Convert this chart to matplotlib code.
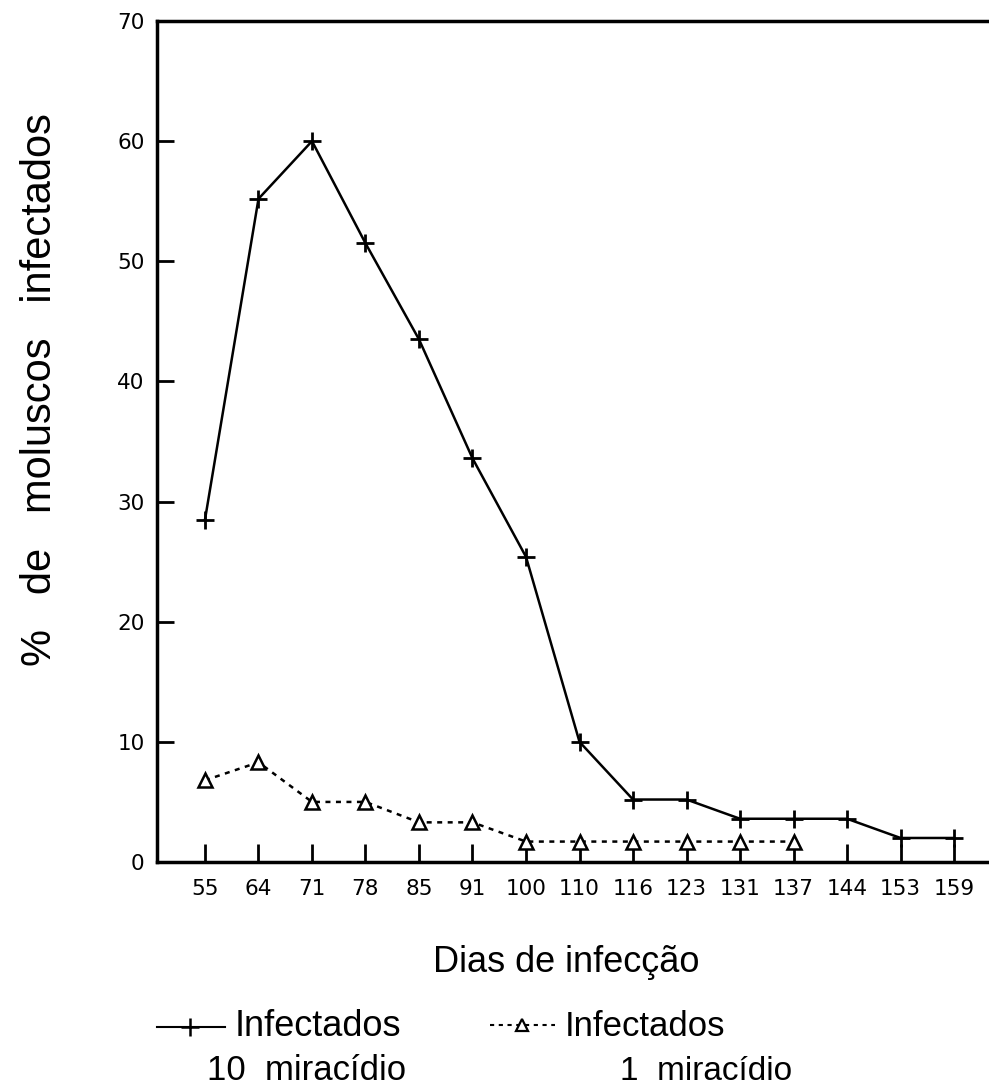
import matplotlib
matplotlib.use('Agg')
import matplotlib.pyplot as plt
from matplotlib.lines import Line2D

# ---- data ----
dias = ['55', '64', '71', '78', '85', '91', '100', '110', '116', '123',
        '131', '137', '144', '153', '159']
infectados_10 = [28.5, 55.2, 60.0, 51.5, 43.5, 33.6, 25.4, 10.0, 5.2, 5.2,
                 3.6, 3.6, 3.6, 2.0, 2.0]
infectados_1 = [6.8, 8.3, 5.0, 5.0, 3.3, 3.3, 1.7, 1.7, 1.7, 1.7, 1.7, 1.7]
yticks = [0, 10, 20, 30, 40, 50, 60, 70]

lab = ['Liberation Sans', 'DejaVu Sans']

W, H = 989, 1092
fig = plt.figure(figsize=(W / 100, H / 100), dpi=100)
ax = fig.add_axes([157 / W, 1 - 862 / H, 845 / W, 841 / H])

xi = list(range(len(dias)))
ax.plot(xi, infectados_10, color='black', lw=1.8, marker='+', ms=13, mew=2)
ax.plot(list(range(len(infectados_1))), infectados_1, color='black', lw=1.8,
        ls=(0, (2, 2.2)), marker='^', ms=10, mfc='white', mec='black', mew=1.8)

ax.set_xlim(-0.897, 14.897)
ax.set_ylim(0, 70)
ax.set_xticks(xi, dias)
ax.set_yticks(yticks, [str(v) for v in yticks])
ax.tick_params(axis='both', direction='in', width=2, labelsize=15.5, colors='black')
ax.tick_params(axis='x', length=13, pad=12)
ax.tick_params(axis='y', length=12, pad=9)
for s in ['left', 'bottom', 'top']:
    ax.spines[s].set_linewidth(2.5)
ax.spines['right'].set_visible(False)

# axis titles
fig.text(40 / W, 1 - 390 / H, '%   de   moluscos   infectados', rotation=90,
         ha='center', va='center', fontsize=30, family=lab)
fig.text(566 / W, 1 - 962 / H, 'Dias de infecção', ha='center', va='center',
         fontsize=26, family=lab)

# legend (manual)
ly1 = 1 - 1027 / H
fig.add_artist(Line2D([157 / W, 225 / W], [ly1, ly1], transform=fig.transFigure,
                      color='black', lw=1.5))
fig.add_artist(Line2D([190 / W], [ly1], transform=fig.transFigure, color='black',
                      marker='+', ms=13, mew=1.8))
fig.text(235 / W, ly1, 'Infectados', ha='left', va='center', fontsize=26, family=lab)
fig.text(207 / W, 1 - 1071 / H, '10  miracídio', ha='left', va='center',
         fontsize=25, family=lab)

ly2 = 1 - 1025 / H
fig.add_artist(Line2D([490 / W, 555 / W], [ly2, ly2], transform=fig.transFigure,
                      color='black', lw=1.5, ls=(0, (2, 2.2))))
fig.add_artist(Line2D([522 / W], [ly2], transform=fig.transFigure, color='black',
                      marker='^', ms=9, mfc='white', mec='black', mew=1.6))
fig.text(565 / W, ly1, 'Infectados', ha='left', va='center', fontsize=25, family=lab)
fig.text(620 / W, 1 - 1071 / H, '1  miracídio', ha='left', va='center',
         fontsize=24, family=lab)

fig.savefig('out.png', dpi=100)
